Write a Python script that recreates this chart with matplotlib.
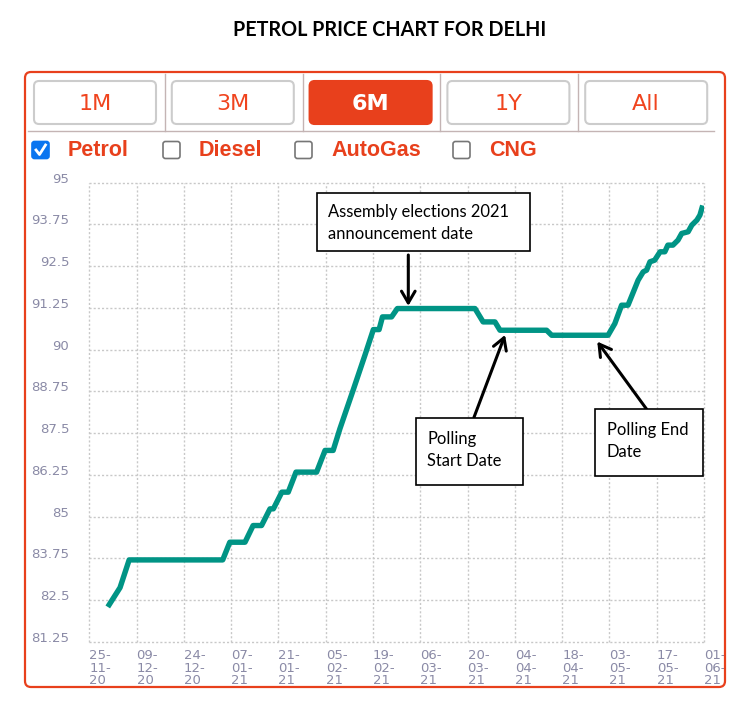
import matplotlib
matplotlib.use("Agg")
import matplotlib.pyplot as plt
from matplotlib.patches import FancyBboxPatch, Rectangle
from matplotlib.lines import Line2D
from matplotlib.transforms import Affine2D

# petrol price, Delhi (days since 25-11-20, Rs/litre)
days = [5.9, 9.1, 11.8, 39.5, 41.6, 46.1, 48.5, 51.0, 53.5, 54.5, 57.0, 58.9,
        61.2, 67.3, 69.8, 72.2, 74.2, 78.1, 81.6, 84.1, 85.8, 86.8, 89.5, 91.2,
        114.2, 116.6, 120.1, 121.6, 135.4, 136.9, 153.6, 155.6, 157.6, 159.5,
        162.5, 164.0, 165.0, 166.0, 167.4, 169.0, 170.4, 171.3, 172.8, 174.3,
        175.4, 177.3, 178.4, 179.9, 180.8, 181.4]
price = [82.36, 82.87, 83.70, 83.70, 84.23, 84.23, 84.73, 84.73, 85.23, 85.23,
         85.73, 85.73, 86.33, 86.33, 86.98, 86.98, 87.63, 88.78, 89.83, 90.60,
         90.60, 90.98, 90.98, 91.23, 91.23, 90.83, 90.83, 90.58, 90.58, 90.43,
         90.43, 90.78, 91.33, 91.33, 92.08, 92.33, 92.38, 92.63, 92.68, 92.93,
         92.93, 93.13, 93.13, 93.28, 93.48, 93.53, 93.73, 93.88, 94.03, 94.24]

tick_dates = ["25-11-20", "09-12-20", "24-12-20", "07-01-21", "21-01-21",
              "05-02-21", "19-02-21", "06-03-21", "20-03-21", "04-04-21",
              "18-04-21", "03-05-21", "17-05-21", "01-06-21"]
y_ticks = [81.25, 82.5, 83.75, 85, 86.25, 87.5, 88.75, 90, 91.25, 92.5, 93.75, 95]

buttons = ["1M", "3M", "6M", "1Y", "All"]
fuels = ["Petrol", "Diesel", "AutoGas", "CNG"]

# annotations: (text, day, price at arrow tip)
notes = [("Assembly elections 2021\nannouncement date", 94.45, 91.31),
         ("Polling\nStart Date", 123.1, 90.44),
         ("Polling End\nDate", 150.4, 90.24)]

RED = "#e8401c"
TEAL = "#009485"
LBL = "#8a8aa6"

W, H = 756, 719
fig = plt.figure(figsize=(W / 100, H / 100), dpi=100)
# pixel coords, origin top-left
px = Affine2D().scale(1 / W, -1 / H).translate(0, 1) + fig.transFigure

fig.text(390, 30, "PETROL PRICE CHART FOR DELHI", transform=px, ha="center",
         va="center", fontsize=14.2, fontweight="bold", family="Lato")

# ---- chart ----
ax = fig.add_axes([89.3 / W, 1 - 641.7 / H, (704 - 89.3) / W, (641.7 - 182.7) / H])
ax.plot(days, price, color=TEAL, lw=3.9, solid_joinstyle="round")
ax.set_xlim(0, 14 * (len(tick_dates) - 1))
ax.set_ylim(y_ticks[0], y_ticks[-1])
ax.set_xticks(range(0, 14 * len(tick_dates), 14))
ax.set_xticklabels([d.replace("-", "-\n") for d in tick_dates])
ax.set_yticks(y_ticks)
ax.set_yticklabels(["%g" % v for v in y_ticks])
for s in ax.spines.values():
    s.set_visible(False)
ax.grid(True, color="#c8c8c8", linestyle=(0, (1.5, 1.5)), linewidth=1.0)
for gl in ax.get_xgridlines() + ax.get_ygridlines():
    gl.set_clip_on(False)
ax.tick_params(axis="y", length=0, pad=14.5, labelsize=9.5, labelcolor=LBL)
ax.tick_params(axis="x", length=0, pad=5.5, labelsize=9.5, labelcolor=LBL)
plt.setp(ax.get_xticklabels(), ha="left", linespacing=0.95)
plt.setp(ax.get_yticklabels(), va="baseline")

# ---- annotation boxes & arrows ----
boxes = [(316.7, 192.7, 213.3, 58.3), (415.7, 418.3, 107.6, 66.7), (595, 409.3, 108.3, 66.7)]
tails = [(408.3, 255), (474, 417.3), (646.7, 409.3)]
for (txt, d, p), (bx, by, bw, bh), tail in zip(notes, boxes, tails):
    ax.annotate("", xy=(d, p), xycoords="data", xytext=tail, textcoords=px,
                arrowprops=dict(arrowstyle="->,head_length=0.6,head_width=0.35",
                                color="black", lw=2.2, mutation_scale=14,
                                shrinkA=0, shrinkB=0))
    fig.add_artist(Rectangle((bx, by), bw, bh, transform=px, fc="white",
                             ec="black", lw=1.2, zorder=3))
    fig.text(bx + 11.6, by + bh / 2 - (1.5 if bh > 60 else -1), txt, transform=px,
             ha="left", va="center", fontsize=11.9, family="Lato",
             linespacing=1.5, zorder=4)

# ---- widget frame ----
fig.add_artist(Rectangle((0, 688), W, 31, transform=px, fc="white", ec="none", zorder=4))
fig.add_artist(FancyBboxPatch((25, 72), 700, 615, boxstyle="round,pad=0,rounding_size=6",
                              transform=px, fill=False, ec=RED, lw=1.6, zorder=5))
for i, b in enumerate(buttons):
    x0 = 34 + i * 137.8
    active = b == "6M"
    fig.add_artist(FancyBboxPatch((x0, 81), 122, 43, boxstyle="round,pad=0,rounding_size=5",
                                  transform=px, fc=RED if active else "white",
                                  ec=RED if active else "#cccccc", lw=1.5, zorder=3))
    fig.text(x0 + 61, 103.5, b, transform=px, ha="center", va="center", fontsize=16,
             color="white" if active else "#f0441e",
             fontweight="bold" if active else "normal", zorder=4)
    if i > 0:
        fig.add_artist(Line2D([x0 - 7, x0 - 7], [74, 131], transform=px,
                              color="#c4b4b4", lw=1))
fig.add_artist(Line2D([28, 714], [131, 131], transform=px, color="#c4b4b4", lw=1))

box_x = [32, 163, 295, 453]
for f, bx in zip(fuels, box_x):
    checked = f == "Petrol"
    fig.add_artist(FancyBboxPatch((bx, 141.5), 17, 17, boxstyle="round,pad=0,rounding_size=2.5",
                                  transform=px, fc="#0a75f0" if checked else "white",
                                  ec="#0a75f0" if checked else "#767676", lw=1.2, zorder=3))
    if checked:
        fig.add_artist(Line2D([bx + 4, bx + 7.5, bx + 13.5], [150, 154.5, 145], transform=px,
                              color="white", lw=2, zorder=4))
    fig.text(bx + 36, 150, f, transform=px, ha="left", va="center", fontsize=15.5,
             fontweight="bold", color=RED, family="Liberation Sans")

fig.savefig("out.png", dpi=100)
